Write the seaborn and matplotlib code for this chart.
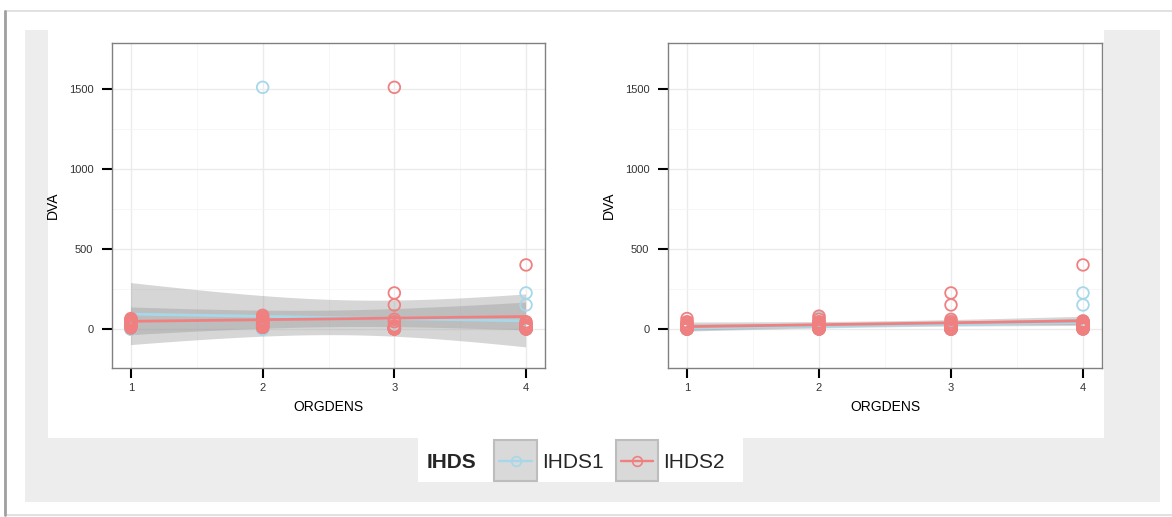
import numpy as np
import pandas as pd
import matplotlib
matplotlib.use("Agg")
import matplotlib.pyplot as plt
import seaborn as sns
from matplotlib.patches import Rectangle
from matplotlib.lines import Line2D

sns.set_style("white")
plt.rcParams['font.family'] = ['Liberation Sans', 'DejaVu Sans']

# ---------------- data ----------------
orgdens_levels = [1, 2, 3, 4]
group_names = ["IHDS1", "IHDS2"]
group_colors = ["#a6d8ea", "#f08080"]
y_ticks = [0, 500, 1000, 1500]

# Left panel: DVA values at ORGDENS = 1, 2, 3, 4
left_ihds1 = [
    [10, 5, 0, 0, 0, 0],
    [1510, 30, 5, 0, 0, 0, 0],
    [20, 10, 0, 0, 0, 0],
    [225, 150, 20, 10, 5, 0, 0, 0, 0, 0],
]
left_ihds2 = [
    [65, 60, 55, 50, 45, 45, 40, 40, 35, 35, 30, 30, 20, 15, 5],
    [85, 75, 65, 55, 50, 45, 40, 35, 30, 25, 20, 15, 10, 10, 10],
    [1510, 225, 150, 60, 45, 20, 15, 10, 5, 5, 4, 0, 0, 0, 0],
    [400, 45, 35, 25, 20, 15, 10, 10, 5, 5, 5, 3, 0, 0, 0],
]
# Right panel: DVA values at ORGDENS = 1, 2, 3, 4
right_ihds1 = [
    [40, 25, 15, 10, 5, 5, 0, 0, 0, 0],
    [70, 45, 30, 20, 10, 5, 0, 0, 0, 0],
    [50, 35, 25, 15, 10, 5, 0, 0, 0, 0],
    [225, 150, 50, 35, 25, 15, 5, 0, 0, 0],
]
right_ihds2 = [
    [65, 45, 35, 25, 20, 15, 10, 5, 5, 0, 0, 0, 0, 0, 0],
    [80, 60, 45, 40, 35, 30, 25, 20, 15, 10, 10, 5, 0, 0, 0],
    [225, 150, 60, 45, 35, 30, 25, 20, 10, 0, 0, 0, 0, 0, 0],
    [400, 50, 45, 45, 40, 35, 30, 30, 25, 20, 15, 10, 5, 0, 0],
]


def to_frame(values):
    xs, ys = [], []
    for lvl, vals in zip(orgdens_levels, values):
        xs += [lvl] * len(vals)
        ys += vals
    return pd.DataFrame({"ORGDENS": xs, "DVA": ys})


def t975(df):
    z = 1.959964
    return (z + (z ** 3 + z) / (4 * df) + (5 * z ** 5 + 16 * z ** 3 + 3 * z) / (96 * df ** 2))


def lm_fit(df):
    x = df["ORGDENS"].to_numpy(float)
    y = df["DVA"].to_numpy(float)
    n = len(x)
    b, a = np.polyfit(x, y, 1)
    resid = y - (a + b * x)
    s = np.sqrt((resid ** 2).sum() / (n - 2))
    xm = x.mean()
    sxx = ((x - xm) ** 2).sum()
    grid = np.linspace(x.min(), x.max(), 80)
    fit = a + b * grid
    se = s * np.sqrt(1 / n + (grid - xm) ** 2 / sxx)
    tq = t975(n - 2)
    return grid, fit, fit - tq * se, fit + tq * se


W, H = 1172, 517
fig = plt.figure(figsize=(W / 100, H / 100), dpi=100)
fig.patch.set_facecolor("white")


def fx(px):
    return px / W


def fy(py):
    return 1 - py / H


def rect(x0, y0, x1, y1, **kw):
    r = Rectangle((fx(x0), fy(y1)), fx(x1) - fx(x0), fy(y0) - fy(y1),
                  transform=fig.transFigure, **kw)
    fig.add_artist(r)
    return r


# window frame and backgrounds
rect(5, 11, 1190, 515, facecolor="white", edgecolor="#dcdcdc", lw=1.2, zorder=-10)
fig.add_artist(Line2D([fx(5), fx(5)], [fy(11), fy(515)], color="#a0a0a0", lw=2,
                      transform=fig.transFigure, zorder=-9))
rect(25, 30, 1160, 502, facecolor="#ededed", edgecolor="none", zorder=-8)
rect(48, 30, 1104, 438, facecolor="white", edgecolor="none", zorder=-7)

ax_left = fig.add_axes([fx(112), fy(368), fx(545) - fx(112), fy(43) - fy(368)])
ax_right = fig.add_axes([fx(668), fy(368), fx(1102) - fx(668), fy(43) - fy(368)])

panels = [(ax_left, [left_ihds1, left_ihds2]), (ax_right, [right_ihds1, right_ihds2])]
for ax, groups in panels:
    frames = [to_frame(g) for g in groups]
    # points
    for i, (df, col) in enumerate(zip(frames, group_colors)):
        sns.regplot(data=df, x="ORGDENS", y="DVA", ax=ax, fit_reg=False, color=col,
                    scatter_kws=dict(facecolors="none", edgecolors=col, s=70,
                                     linewidths=1.3, zorder=4 + i, alpha=1))
    # linear smooth with 95% confidence band
    for i, (df, col) in enumerate(zip(frames, group_colors)):
        grid, fit, lo, hi = lm_fit(df)
        ax.fill_between(grid, lo, hi, facecolor=(0.6, 0.6, 0.6, 0.4), edgecolor="none",
                        zorder=2)
        sns.lineplot(x=grid, y=fit, ax=ax, color=col, lw=2.0, zorder=3 + i * 0.1)

    ax.set_facecolor("white")
    ax.set_xlim(0.856, 4.144)
    ax.set_ylim(-244, 1787)
    ax.set_xticks(orgdens_levels)
    ax.set_xticklabels([str(v) for v in orgdens_levels])
    ax.set_yticks(y_ticks)
    ax.set_yticklabels([str(v) for v in y_ticks])
    ax.set_xticks([1.5, 2.5, 3.5], minor=True)
    ax.set_yticks([250, 750, 1250], minor=True)
    ax.grid(True, which="major", color="#ebebeb", lw=1.0, zorder=0)
    ax.grid(True, which="minor", color="#f5f5f5", lw=0.6, zorder=0)
    ax.set_axisbelow(True)
    for s in ax.spines.values():
        s.set_color("#808080")
        s.set_linewidth(1.0)
        s.set_visible(True)
    ax.tick_params(axis="both", which="major", direction="out", length=7, width=1.5,
                   color="black", labelsize=8, labelcolor="#333333",
                   bottom=True, left=True)
    ax.tick_params(axis="y", which="major", pad=6.5)
    ax.tick_params(axis="x", which="major", pad=4)
    ax.tick_params(axis="both", which="minor", length=0)
    ax.set_xlabel("ORGDENS", fontsize=10, labelpad=5, color="black")
    ax.set_ylabel("DVA", fontsize=10, labelpad=6, color="black")

# ---------------- legend ----------------
rect(418, 438, 743, 482, facecolor="white", edgecolor="none", zorder=-6)
fig.text(fx(427), fy(462), "IHDS", fontsize=15, fontweight="bold", va="center", ha="left")
key_boxes = [(494, 537), (616, 658)]
label_x = [542, 663]
for (k0, k1), name, col, lx in zip(key_boxes, group_names, group_colors, label_x):
    rect(k0, 440, k1, 481, facecolor="#d9d9d9", edgecolor="#bdbdbd", lw=1.5, zorder=-5)
    fig.add_artist(Line2D([fx(k0 + 5), fx(k1 - 5)], [fy(461), fy(461)], color=col, lw=1.7,
                          transform=fig.transFigure))
    fig.add_artist(Line2D([fx((k0 + k1) / 2)], [fy(461)], color=col, marker="o",
                          markerfacecolor="none", markersize=7, markeredgewidth=1.2,
                          transform=fig.transFigure))
    fig.text(fx(lx), fy(462), name, fontsize=15, va="center", ha="left")

fig.savefig("out.png", dpi=100)
